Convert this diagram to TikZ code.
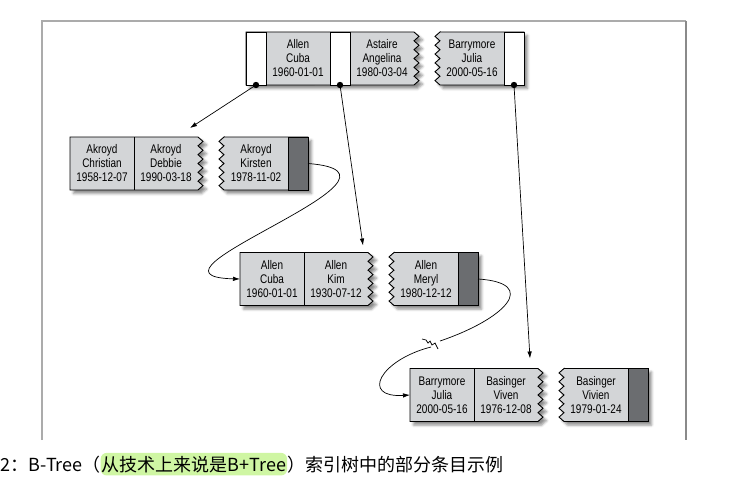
\documentclass[tikz,border=0pt]{standalone}
\usepackage{fontspec}
\newfontfamily\cellfont[FakeStretch=0.8]{Liberation Sans}
\newfontfamily\cjkfont{Noto Sans CJK SC}
\usetikzlibrary{arrows.meta, positioning, calc, backgrounds, shadows.blur}

\definecolor{keygray}{HTML}{D3D5D7}
\definecolor{nextdark}{HTML}{6B6D70}
\definecolor{framegray}{HTML}{ABABAB}
\definecolor{framedark}{HTML}{8A8A8A}
\definecolor{marker}{HTML}{CFF6A3}

\begin{document}
\begin{tikzpicture}[
    x=1pt, y=-1pt,
    % cells of a record
    keycell/.style={rectangle, minimum width=64pt, minimum height=53pt, inner sep=0pt, outer sep=0pt, align=center, font={\cellfont\fontsize{12.5}{14}\selectfont}},
    ptrcell/.style={rectangle, draw=black, line width=0.9pt, fill=white, minimum width=20pt, minimum height=53pt, inner sep=0pt, outer sep=0pt},
    nextcell/.style={ptrcell, fill=nextdark},
    recordbg/.style={fill=keygray, draw=black, line width=0.9pt, line join=miter, blur shadow={shadow xshift=3.5pt, shadow yshift=-3.5pt, shadow blur radius=2.5pt, shadow opacity=45}},
    divider/.style={draw=black, line width=0.9pt},
    ptrarrow/.style={-{Latex[length=7pt, width=4.5pt]}, line width=0.7pt, black},
    link/.style={line width=0.7pt, black},
    frameline/.style={line width=1.6pt, framegray},
    caption/.style={inner sep=0pt, outer sep=0pt, font={\cjkfont\fontsize{18}{20}\selectfont}},
    marked/.style={fill=marker, rounded corners=6pt, inner xsep=1pt, inner ysep=3pt},
]
\useasboundingbox (0,0) rectangle (734,487);

% === frame ===
\draw[frameline] (42,440) -- (42,21) -- (686,21);
\draw[frameline, framedark] (686,21) -- (686,440);

% === root node ===
\node[ptrcell] (rp0) at (256,58.5) {};
\node[keycell, right=0pt of rp0] (cuba) {Allen\\Cuba\\1960-01-01};
\node[ptrcell, right=0pt of cuba] (rp1) {};
\node[keycell, right=0pt of rp1] (astaire) {Astaire\\Angelina\\1980-03-04};
\node[keycell, right=26pt of astaire] (barry) {Barrymore\\Julia\\2000-05-16};
\node[ptrcell, right=0pt of barry] (rp2) {};

% === leaf: Akroyd ===
\node[keycell] (christian) at (102,163.5) {Akroyd\\Christian\\1958-12-07};
\node[keycell, right=0pt of christian] (debbie) {Akroyd\\Debbie\\1990-03-18};
\node[keycell, right=26pt of debbie] (kirsten) {Akroyd\\Kirsten\\1978-11-02};
\node[nextcell, right=0pt of kirsten] (kirstenNext) {};

% === leaf: Allen ===
\node[keycell] (cuba2) at (272,279) {Allen\\Cuba\\1960-01-01};
\node[keycell, right=0pt of cuba2] (kim) {Allen\\Kim\\1930-07-12};
\node[keycell, right=26pt of kim] (meryl) {Allen\\Meryl\\1980-12-12};
\node[nextcell, right=0pt of meryl] (merylNext) {};

% === leaf: Barrymore / Basinger ===
\node[keycell] (julia) at (442,395) {Barrymore\\Julia\\2000-05-16};
\node[keycell, right=0pt of julia] (viven) {Basinger\\Viven\\1976-12-08};
\node[keycell, right=26pt of viven] (vivien) {Basinger\\Vivien\\1979-01-24};
\node[nextcell, right=0pt of vivien] (vivienNext) {};

% torn record bodies
\begin{scope}[on background layer]
    \path[recordbg] (rp0.north west) -- (astaire.north east)
        \foreach \k in {1,...,6} { -- ++(5,4.4167) -- ++(-5,4.4167) } -- (rp0.south west) -- cycle;
    \path[recordbg] (barry.north west) -- (rp2.north east) -- (rp2.south east) -- (barry.south west)
        \foreach \k in {1,...,6} { -- ++(-5,-4.4167) -- ++(5,-4.4167) } -- cycle;
    \path[recordbg] (christian.north west) -- (debbie.north east)
        \foreach \k in {1,...,6} { -- ++(5,4.4167) -- ++(-5,4.4167) } -- (christian.south west) -- cycle;
    \path[recordbg] (kirsten.north west) -- (kirstenNext.north east) -- (kirstenNext.south east) -- (kirsten.south west)
        \foreach \k in {1,...,6} { -- ++(-5,-4.4167) -- ++(5,-4.4167) } -- cycle;
    \path[recordbg] (cuba2.north west) -- (kim.north east)
        \foreach \k in {1,...,6} { -- ++(5,4.4167) -- ++(-5,4.4167) } -- (cuba2.south west) -- cycle;
    \path[recordbg] (meryl.north west) -- (merylNext.north east) -- (merylNext.south east) -- (meryl.south west)
        \foreach \k in {1,...,6} { -- ++(-5,-4.4167) -- ++(5,-4.4167) } -- cycle;
    \path[recordbg] (julia.north west) -- (viven.north east)
        \foreach \k in {1,...,6} { -- ++(5,4.4167) -- ++(-5,4.4167) } -- (julia.south west) -- cycle;
    \path[recordbg] (vivien.north west) -- (vivienNext.north east) -- (vivienNext.south east) -- (vivien.south west)
        \foreach \k in {1,...,6} { -- ++(-5,-4.4167) -- ++(5,-4.4167) } -- cycle;
\end{scope}

% cell dividers
\draw[divider] (christian.north east) -- (christian.south east);
\draw[divider] (cuba2.north east) -- (cuba2.south east);
\draw[divider] (julia.north east) -- (julia.south east);

% === pointers ===
\fill (rp0.south) circle (3.2pt);
\fill (rp1.south) circle (3.2pt);
\fill (rp2.south) circle (3.2pt);
\draw[ptrarrow] (rp0.south) -- ($(debbie.north east)+(-8,-9)$);
\draw[ptrarrow] (rp1.south) -- ($(kim.north east)+(-5,-7)$);
\draw[ptrarrow] (rp2.south) -- ($(viven.north east)+(-8,-10)$);

% === leaf links ===
\draw[link, ptrarrow] (kirstenNext.east) .. controls +(130,10) and +(-120,-3) .. (cuba2.west);
\coordinate (brkA) at (440,341);
\coordinate (brkB) at (431,347);
\draw[link] (merylNext.east) .. controls +(62,4) and +(65,-22) .. (brkA);
\draw[link] (brkA) ++(-18,-2) -- ++(4,1) -- ++(2,3) -- ++(2,-2) -- ++(2,4) -- ++(3,-2) -- ++(3,6);
\draw[link, ptrarrow] (brkB) .. controls +(-51,13) and +(-50,3) .. (julia.west);

% === caption ===
\node[caption, anchor=base west] (capA) at (1,471) {2：B-Tree（};
\node[caption, marked, base right=0pt of capA] (capB) {从技术上来说是B+Tree};
\node[caption, base right=0pt of capB] (capC) {）索引树中的部分条目示例};

\end{tikzpicture}
\end{document}
